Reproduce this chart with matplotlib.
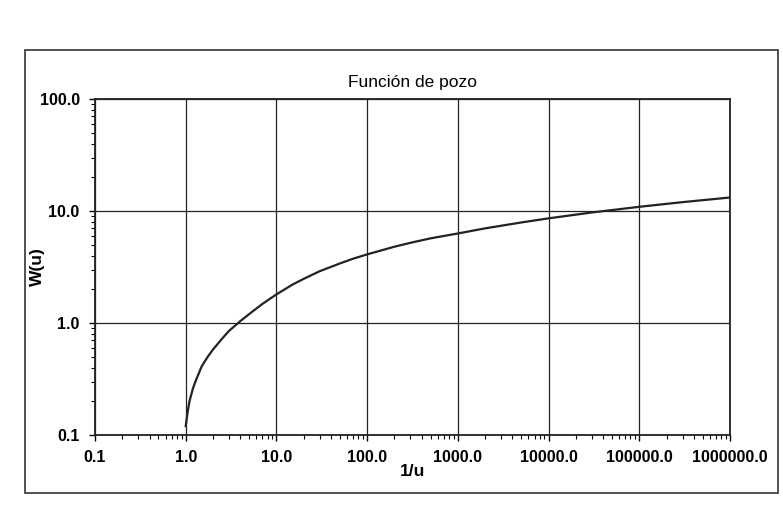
import numpy as np
import matplotlib
matplotlib.use("Agg")
import matplotlib.pyplot as plt
from matplotlib.patches import Rectangle
from matplotlib.ticker import FixedLocator, LogLocator, NullFormatter

plt.rcParams['font.family'] = ['Liberation Sans', 'DejaVu Sans']

# ================= DATA =================
inv_u = [1.0, 1.05, 1.1, 1.2, 1.3, 1.5, 1.75, 2.0, 2.5, 3.0, 4.0, 5.0, 7.0,
         10.0, 15.0, 20.0, 30.0, 50.0, 70.0, 100.0, 200.0, 300.0, 500.0,
         1000.0, 2000.0, 5000.0, 10000.0, 30000.0, 100000.0, 300000.0,
         1000000.0]
w_u = [0.12, 0.16, 0.2, 0.26, 0.31, 0.41, 0.5, 0.58, 0.72, 0.85, 1.04, 1.2,
       1.48, 1.8, 2.2, 2.48, 2.9, 3.4, 3.75, 4.1, 4.8, 5.2, 5.7, 6.3, 7.0,
       7.9, 8.6, 9.7, 10.9, 12.0, 13.2]

x_ticks = [0.1, 1.0, 10.0, 100.0, 1000.0, 10000.0, 100000.0, 1000000.0]
x_labels = ["0.1", "1.0", "10.0", "100.0", "1000.0", "10000.0", "100000.0", "1000000.0"]
y_ticks = [0.1, 1.0, 10.0, 100.0]
y_labels = ["0.1", "1.0", "10.0", "100.0"]

# ================= PLOT =================
fig = plt.figure(figsize=(7.83, 5.19), dpi=100)
fig.patches.append(Rectangle((25 / 783, 1 - 493 / 519), 753 / 783, 443 / 519,
                             transform=fig.transFigure, fill=False,
                             edgecolor="#333333", linewidth=1.2))

ax = fig.add_axes([95 / 783, 1 - 435 / 519, 635 / 783, 336 / 519])
ax.plot(inv_u, w_u, color="#222222", linewidth=1.6)

ax.set_xscale("log")
ax.set_yscale("log")
ax.set_xlim(0.1, 1000000.0)
ax.set_ylim(0.1, 100.0)

ax.xaxis.set_major_locator(FixedLocator(x_ticks))
ax.set_xticklabels(x_labels)
ax.yaxis.set_major_locator(FixedLocator(y_ticks))
ax.set_yticklabels(y_labels)
ax.xaxis.set_minor_locator(LogLocator(base=10, subs=np.arange(2, 10)))
ax.yaxis.set_minor_locator(LogLocator(base=10, subs=np.arange(2, 10)))
ax.xaxis.set_minor_formatter(NullFormatter())
ax.yaxis.set_minor_formatter(NullFormatter())

ax.tick_params(which="major", direction="out", length=4, width=1.0,
               labelsize=11.5, pad=7)
ax.tick_params(which="minor", direction="out", length=3, width=0.8)
for lbl in ax.get_xticklabels() + ax.get_yticklabels():
    lbl.set_fontweight("bold")

ax.grid(True, which="major", color="#222222", linewidth=0.9)
for s in ax.spines.values():
    s.set_linewidth(1.3)
    s.set_color("#222222")

ax.set_title("Función de pozo", fontsize=12.5, pad=9)
ax.set_xlabel("1/u", fontsize=12.5, fontweight="bold")
ax.set_ylabel("W(u)", fontsize=12.5, fontweight="bold")
ax.xaxis.set_label_coords(0.5, -0.085)
ax.yaxis.set_label_coords(-0.079, 0.5)

fig.savefig("out.png", dpi=100)
